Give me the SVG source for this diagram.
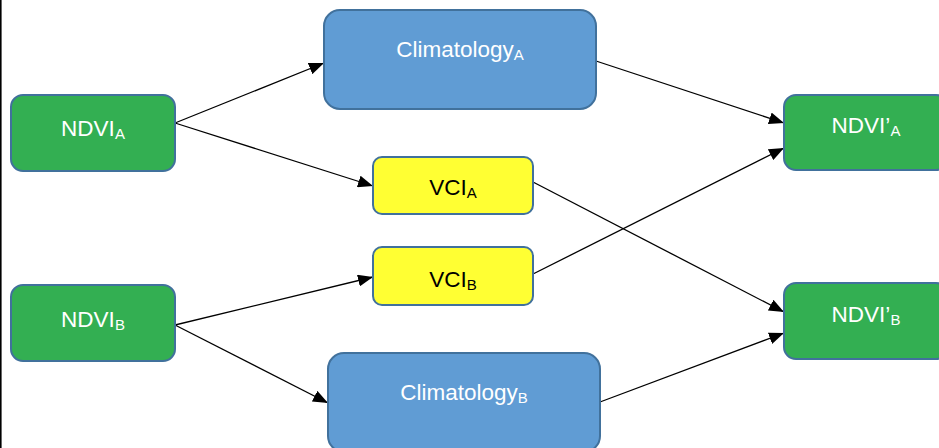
<svg xmlns="http://www.w3.org/2000/svg" width="939" height="448" viewBox="0 0 939 448">
  <defs>
    <marker id="arrow" markerUnits="userSpaceOnUse" markerWidth="16" markerHeight="12" refX="15" refY="6" orient="auto">
      <path d="M0,0 L15,6 L0,12 Z" fill="#000"/>
    </marker>
    <style>
      .box { stroke: #41719C; stroke-width: 2; }
      .green { fill: #33AF52; }
      .blue { fill: #609CD4; }
      .yellow { fill: #FFFF33; }
      .lbl { font-family: "Liberation Sans", Arial, sans-serif; font-size: 22.5px; text-anchor: middle; }
      .light { fill: #FFFFFF; }
      .dark { fill: #000000; }
      .sub { font-size: 15px; }
      .edge { stroke: #000; stroke-width: 1.3; fill: none; marker-end: url(#arrow); }
    </style>
  </defs>

  <rect x="0" y="0" width="939" height="448" fill="#FFFFFF"/>
  <line x1="0.8" y1="0" x2="0.8" y2="448" stroke="#000" stroke-width="1.6"/>

  <!-- connectors -->
  <g id="connectors">
    <line class="edge" x1="175" y1="123" x2="324" y2="63"/>
    <line class="edge" x1="175" y1="123" x2="373" y2="186"/>
    <line class="edge" x1="596" y1="61" x2="784" y2="123"/>
    <line class="edge" x1="533" y1="182" x2="784" y2="312"/>
    <line class="edge" x1="533" y1="274" x2="784" y2="148"/>
    <line class="edge" x1="175" y1="325" x2="373" y2="277"/>
    <line class="edge" x1="175" y1="325" x2="328" y2="403"/>
    <line class="edge" x1="600" y1="402" x2="784" y2="333"/>
  </g>

  <g id="ndvi-a">
    <rect class="box green" x="11" y="95" width="164" height="76" rx="12"/>
    <text class="lbl light" x="93" y="136">NDVI<tspan class="sub" dy="3">A</tspan></text>
  </g>

  <g id="ndvi-b">
    <rect class="box green" x="11" y="285" width="164" height="76" rx="12"/>
    <text class="lbl light" x="93" y="327">NDVI<tspan class="sub" dy="3">B</tspan></text>
  </g>

  <g id="climatology-a">
    <rect class="box blue" x="324" y="10" width="272" height="99" rx="16"/>
    <text class="lbl light" x="460" y="57">Climatology<tspan class="sub" dy="3">A</tspan></text>
  </g>

  <g id="climatology-b">
    <rect class="box blue" x="328" y="353" width="272" height="99" rx="16"/>
    <text class="lbl light" x="464" y="400">Climatology<tspan class="sub" dy="3">B</tspan></text>
  </g>

  <g id="vci-a">
    <rect class="box yellow" x="373" y="157" width="160" height="57" rx="9"/>
    <text class="lbl dark" x="453" y="195">VCI<tspan class="sub" dy="3">A</tspan></text>
  </g>

  <g id="vci-b">
    <rect class="box yellow" x="373" y="247" width="160" height="58" rx="9"/>
    <text class="lbl dark" x="453" y="287">VCI<tspan class="sub" dy="3">B</tspan></text>
  </g>

  <g id="ndvi-prime-a">
    <rect class="box green" x="784" y="95" width="164" height="75" rx="12"/>
    <text class="lbl light" x="866" y="133">NDVI’<tspan class="sub" dy="3">A</tspan></text>
  </g>

  <g id="ndvi-prime-b">
    <rect class="box green" x="784" y="283" width="164" height="76" rx="12"/>
    <text class="lbl light" x="866" y="322">NDVI’<tspan class="sub" dy="3">B</tspan></text>
  </g>
</svg>
